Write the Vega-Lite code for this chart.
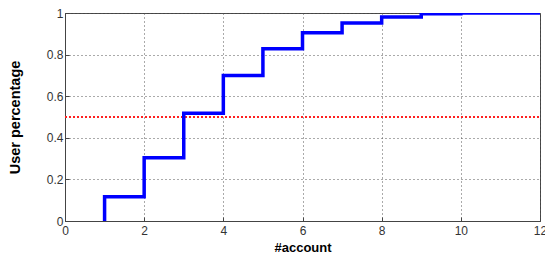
{
  "$schema": "https://vega.github.io/schema/vega-lite/v6.json",
  "width": 475,
  "height": 208,
  "autosize": {"type": "none"},
  "padding": {"left": 65, "top": 13, "right": 5, "bottom": 32},
  "background": "white",
  "config": {
    "font": "Liberation Sans",
    "view": {"stroke": "#444444", "strokeWidth": 1},
    "axis": {
      "labelFont": "Liberation Sans",
      "labelFontSize": 12,
      "labelColor": "#333333",
      "titleFont": "Liberation Sans",
      "titleFontSize": 13,
      "titleFontWeight": "bold",
      "titleColor": "black",
      "domainColor": "#444444",
      "tickColor": "#444444",
      "gridColor": "#555555",
      "gridDash": [1, 3],
      "gridOpacity": 1,
      "gridWidth": 1
    }
  },
  "datasets": {
    "cdf": [
      {"account": 1, "pct": 0},
      {"account": 1, "pct": 0.117},
      {"account": 2, "pct": 0.304},
      {"account": 3, "pct": 0.518},
      {"account": 4, "pct": 0.70},
      {"account": 5, "pct": 0.828},
      {"account": 6, "pct": 0.905},
      {"account": 7, "pct": 0.952},
      {"account": 8, "pct": 0.981},
      {"account": 9, "pct": 0.996},
      {"account": 10, "pct": 1.0},
      {"account": 12, "pct": 1.0}
    ],
    "half": [
      {"account": 0, "pct": 0.5},
      {"account": 12, "pct": 0.5}
    ]
  },
  "layer": [
    {
      "data": {"name": "half"},
      "mark": {"type": "line", "color": "#ff2020", "strokeWidth": 2, "strokeDash": [2, 2]},
      "encoding": {
        "x": {
          "field": "account", "type": "quantitative",
          "scale": {"domain": [0, 12], "nice": false},
          "axis": {"title": "#account", "values": [0, 2, 4, 6, 8, 10, 12], "grid": true, "tickSize": -4, "labelPadding": 8, "titlePadding": 5, "labelFlush": false}
        },
        "y": {
          "field": "pct", "type": "quantitative",
          "scale": {"domain": [0, 1], "nice": false},
          "axis": {"title": "User percentage", "titleFontSize": 14.5, "values": [0, 0.2, 0.4, 0.6, 0.8, 1], "format": ".1~f", "grid": true, "tickSize": -4, "labelPadding": 6, "titlePadding": 24, "labelFlush": false}
        }
      }
    },
    {
      "data": {"name": "cdf"},
      "mark": {"type": "line", "color": "#0000ff", "strokeWidth": 3.5, "interpolate": "step-after", "clip": true},
      "encoding": {
        "x": {"field": "account", "type": "quantitative"},
        "y": {"field": "pct", "type": "quantitative"}
      }
    }
  ]
}
